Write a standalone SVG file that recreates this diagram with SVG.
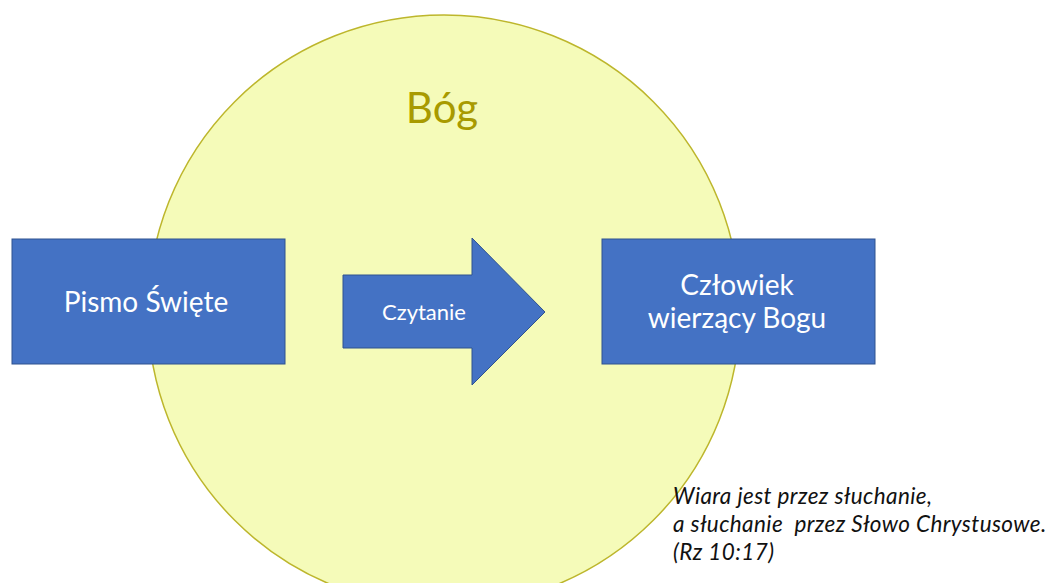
<svg xmlns="http://www.w3.org/2000/svg" width="1057" height="583" viewBox="0 0 1057 583">
<style>
.box{fill:#4472C4;stroke:#2F528F;stroke-width:1}
.wt{fill:#FFFFFF;font-family:Lato,"Open Sans",sans-serif;text-anchor:middle}
.quote{fill:#111111;font-family:Lato,"Open Sans",sans-serif;font-style:italic;font-size:22.5px;letter-spacing:0.4px}
</style>
<rect width="1057" height="583" fill="#FFFFFF"/>
<g id="bog">
<circle cx="444" cy="311" r="296" fill="#F5FBB9" stroke="#BDB62C" stroke-width="1.5"/>
<text x="442" y="123" font-family="Lato,'Open Sans',sans-serif" font-size="42" fill="#A89A00" text-anchor="middle">Bóg</text>
</g>
<g id="pismo">
<rect class="box" x="12" y="239" width="273" height="125"/>
<text class="wt" x="146" y="312" font-size="28">Pismo Święte</text>
</g>
<g id="connectors">
<g id="czytanie">
<polygon class="box" points="343,275 472,275 472,238 545,312 472,385 472,348 343,348"/>
<text class="wt" x="424" y="320" font-size="22">Czytanie</text>
</g>
</g>
<g id="czlowiek">
<rect class="box" x="602" y="239" width="273" height="125"/>
<text class="wt" x="737" y="295" font-size="28">Człowiek</text>
<text class="wt" x="737" y="328" font-size="28">wierzący Bogu</text>
</g>
<g id="cytat">
<text class="quote" x="673" y="504">Wiara jest przez słuchanie,</text>
<text class="quote" x="673" y="532" xml:space="preserve">a słuchanie  przez Słowo Chrystusowe.</text>
<text class="quote" x="673" y="560">(Rz 10:17)</text>
</g>
</svg>
